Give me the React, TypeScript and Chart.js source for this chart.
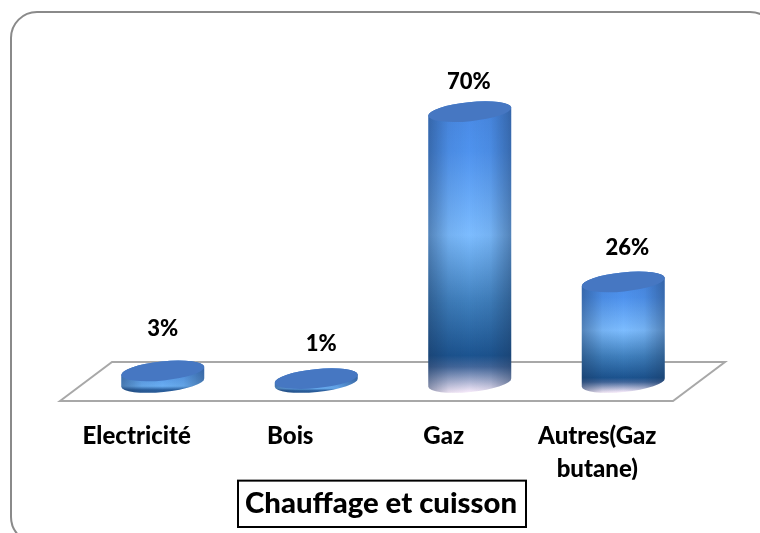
import React, { useEffect, useRef } from "react";
import { Chart, registerables } from "chart.js";

Chart.register(...registerables);

const categories = ["Electricité", "Bois", "Gaz", ["Autres(Gaz", "butane)"]];
const shares = [3, 1, 70, 26];
const labelLift = [42, 35, 30, 34];
const labelShift = [0, 5, -1, 4];

const FONT = "Lato, 'Open Sans', sans-serif";
const TILT = -0.1;
const RY = 9.5;

function cylinderGradient(ctx: CanvasRenderingContext2D, top: number, bottom: number) {
  const g = ctx.createLinearGradient(0, top, 0, bottom);
  if (bottom - top < 40) {
    g.addColorStop(0, "#4f8fe0");
    g.addColorStop(0.72, "#6aaef2");
    g.addColorStop(0.9, "#2a5f9e");
    g.addColorStop(1, "#2a5c98");
  } else {
    g.addColorStop(0, "#4a8be6");
    g.addColorStop(0.14, "#4f93ee");
    g.addColorStop(0.44, "#7dbdff");
    g.addColorStop(0.68, "#3f7fbd");
    g.addColorStop(0.87, "#1c5490");
    g.addColorStop(0.91, "#44689c");
    g.addColorStop(1, "#f6eafa");
  }
  return g;
}

const framePlugin = {
  id: "frame",
  beforeDraw(chart: any) {
    const c = chart.ctx as CanvasRenderingContext2D;
    c.save();
    c.fillStyle = "#ffffff";
    c.fillRect(0, 0, chart.width, chart.height);
    c.strokeStyle = "#8a8a8a";
    c.lineWidth = 2;
    c.beginPath();
    c.roundRect(11, 12, 765, 531, 26);
    c.stroke();
    c.restore();
  },
  beforeDatasetsDraw(chart: any) {
    const c = chart.ctx as CanvasRenderingContext2D;
    const { left, right, bottom } = chart.chartArea;
    c.save();
    c.strokeStyle = "#a8a8a8";
    c.lineWidth = 2;
    c.lineJoin = "miter";
    c.beginPath();
    c.moveTo(left - 26, bottom + 18.5);
    c.lineTo(left + 26, bottom - 20.5);
    c.lineTo(right + 25, bottom - 20.5);
    c.lineTo(right - 27, bottom + 18.5);
    c.closePath();
    c.stroke();
    c.restore();
  },
};

const cylinderPlugin = {
  id: "cylinder",
  beforeDatasetDraw() {
    return false;
  },
  afterDatasetsDraw(chart: any) {
    const c = chart.ctx as CanvasRenderingContext2D;
    const meta = chart.getDatasetMeta(0);
    meta.data.forEach((bar: any, i: number) => {
      const half = bar.width / 2;
      const rx = half / Math.cos(TILT);
      const x0 = bar.x - half;
      const x1 = bar.x + half;
      const top = bar.y;
      const base = bar.base;
      c.save();
      c.filter = "blur(0.7px)";
      c.beginPath();
      c.ellipse(bar.x, top, rx, RY, TILT, Math.PI, Math.PI * 2);
      c.ellipse(bar.x, base, rx, RY, TILT, 0, Math.PI);
      c.closePath();
      c.fillStyle = cylinderGradient(c, top, base + RY);
      c.fill();
      const h = c.createLinearGradient(x0, 0, x1, 0);
      h.addColorStop(0, "rgba(25,50,85,0.42)");
      h.addColorStop(0.25, "rgba(25,50,85,0.08)");
      h.addColorStop(0.5, "rgba(25,50,85,0)");
      h.addColorStop(0.75, "rgba(25,50,85,0.08)");
      h.addColorStop(1, "rgba(25,50,85,0.42)");
      c.fillStyle = h;
      c.fill();
      c.beginPath();
      c.ellipse(bar.x, top, rx, RY, TILT, 0, Math.PI * 2);
      c.fillStyle = "#4677c2";
      c.fill();
      c.restore();

      c.save();
      c.fillStyle = "#000000";
      c.font = `900 22px ${FONT}`;
      c.textAlign = "center";
      c.textBaseline = "middle";
      c.fillText(`${shares[i]}%`, bar.x + labelShift[i], top - labelLift[i]);
      c.restore();
    });
  },
  afterDraw(chart: any) {
    const c = chart.ctx as CanvasRenderingContext2D;
    const t = chart.titleBlock;
    c.save();
    c.strokeStyle = "#000000";
    c.lineWidth = 2;
    c.strokeRect(238, t.top + 1, 288, t.height - 2);
    c.restore();
  },
};

export default function App() {
  const ref = useRef<HTMLCanvasElement>(null);
  useEffect(() => {
    const chart = new Chart(ref.current!, {
      type: "bar",
      data: {
        labels: categories as any,
        datasets: [
          {
            label: "Chauffage et cuisson",
            data: shares,
            barPercentage: 0.54,
            categoryPercentage: 1,
            borderWidth: 0,
            backgroundColor: "#4a8be6",
          },
        ],
      },
      options: {
        responsive: false,
        animation: false,
        layout: { padding: { left: 62, right: 60, top: 73, bottom: 5 } },
        plugins: {
          legend: { display: false },
          tooltip: { enabled: false },
          title: {
            display: true,
            position: "bottom",
            text: "Chauffage et cuisson",
            color: "#000000",
            font: { family: FONT, size: 29.3, weight: "900", lineHeight: 1.2 },
            padding: { top: 6.6, bottom: 6.6 },
          },
        },
        scales: {
          y: {
            display: true,
            min: 0,
            max: 80,
            border: { display: false },
            grid: { display: false },
            ticks: { display: false },
            afterFit(s: any) {
              s.width = 24;
            },
          },
          x: {
            border: { display: false },
            grid: { display: false },
            afterFit(s: any) {
              s.height = 97.1;
            },
            ticks: {
              color: "#000000",
              padding: 30,
              labelOffset: -26,
              maxRotation: 0,
              autoSkip: false,
              font: { family: FONT, size: 24, weight: "900", lineHeight: 1.34 },
            },
          },
        },
      },
      plugins: [framePlugin, cylinderPlugin],
    } as any);
    return () => chart.destroy();
  }, []);
  return (
    <div style={{ position: "fixed", left: 0, top: 0, width: 760, height: 533, background: "#fff" }}>
      <canvas ref={ref} width={760} height={533} style={{ display: "block" }} />
    </div>
  );
}
